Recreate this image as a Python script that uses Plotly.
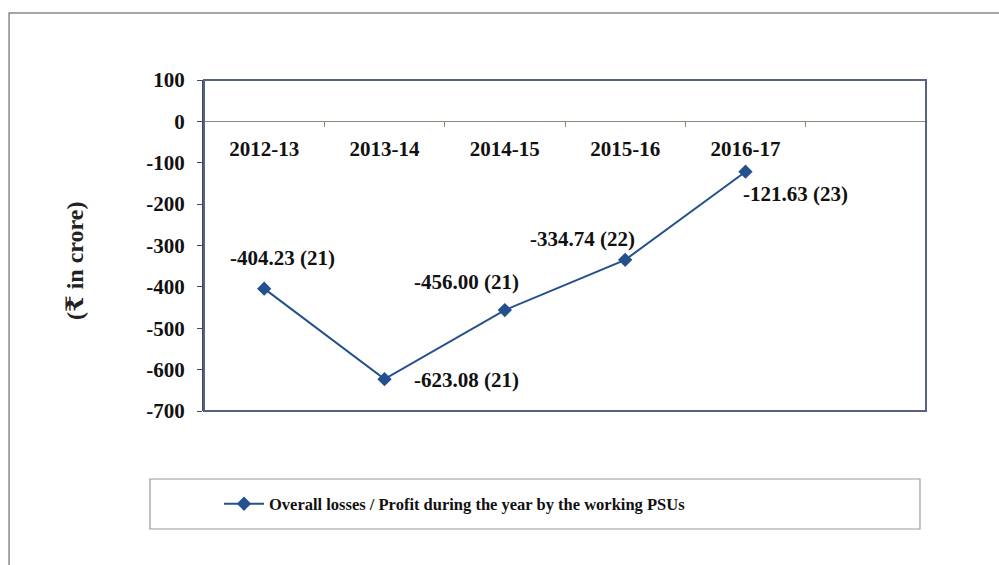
import plotly.graph_objects as go

years = ["2012-13", "2013-14", "2014-15", "2015-16", "2016-17"]
values = [-404.23, -623.08, -456.00, -334.74, -121.63]
counts = [21, 21, 21, 22, 23]
series_name = "Overall losses / Profit during the year by the working PSUs"
y_title = "(₹ in crore)"
y_ticks = [100, 0, -100, -200, -300, -400, -500, -600, -700]

all_cats = years + [" "]
FONT = "Times New Roman, Liberation Serif, DejaVu Serif, serif"
LINE_COLOR = "#24508f"
TXT = "#111111"

fig = go.Figure()
fig.add_trace(go.Scatter(
    x=years, y=values, mode="lines+markers", name=series_name,
    line=dict(color=LINE_COLOR, width=2),
    marker=dict(symbol="diamond", size=11, color=LINE_COLOR),
))

# data labels: (xshift, yshift, xanchor)
offsets = [(18, 31, "center"), (27, -1, "left"), (-38, 28, "center"), (-43, 21, "center"), (-5, -22, "left")]
for yr, v, c, (dx, dy, xa) in zip(years, values, counts, offsets):
    fig.add_annotation(x=yr, y=v, text=f"{v:.2f} ({c})", showarrow=False,
                       xshift=dx, yshift=dy, xanchor=xa, yanchor="middle",
                       font=dict(family=FONT, size=21, color=TXT, weight="bold"))

fig.add_annotation(xref="paper", yref="paper", x=(60 - 204) / 722, y=(411 - 261) / 331,
                   text=y_title, textangle=-90, showarrow=False,
                   font=dict(family=FONT, size=24, color="#222", weight="bold"))

# plot border
fig.add_shape(type="rect", xref="paper", yref="paper", x0=0, y0=0, x1=1, y1=1,
              line=dict(color="#56627e", width=2), layer="above")
# outer frame
fig.add_shape(type="rect", xref="paper", yref="paper", x0=-0.27, y0=-0.7, x1=1.2, y1=1.2024,
              line=dict(color="#888", width=1.5))
# legend box
fig.add_shape(type="rect", xref="paper", yref="paper",
              x0=(150 - 204) / 722, y0=(411 - 529) / 331, x1=(920 - 204) / 722, y1=(411 - 479) / 331,
              line=dict(color="#999", width=1.2))

fig.update_layout(
    width=999, height=565,
    margin=dict(l=204, r=73, t=80, b=154),
    paper_bgcolor="white", plot_bgcolor="white",
    font=dict(family=FONT),
    showlegend=True,
    legend=dict(x=(219 - 204) / 722, y=(411 - 504) / 331, xanchor="left", yanchor="middle",
                font=dict(family=FONT, size=16.5, color=TXT, weight="bold"),
                bgcolor="rgba(0,0,0,0)", itemwidth=40),
    xaxis=dict(type="category", categoryorder="array", categoryarray=all_cats,
               range=[-0.5, 5.5], anchor="free", position=0.875,
               showline=True, linecolor="#8a8a7a", linewidth=1,
               tickson="boundaries", ticks="outside", ticklen=5, tickcolor="#8a8a7a",
               ticklabelstandoff=8, showgrid=False, zeroline=False,
               tickfont=dict(family=FONT, size=21, color=TXT, weight="bold")),
    yaxis=dict(range=[-700, 100], tickvals=y_ticks, ticktext=[str(t) for t in y_ticks],
               showgrid=False, zeroline=False,
               showline=True, linecolor="#3b4a6b", linewidth=2,
               ticks="outside", ticklen=5, tickcolor="#3b4a6b",
               ticklabelstandoff=8,
               tickfont=dict(family=FONT, size=21, color=TXT, weight="bold")),
)
fig.write_html("out.html")
